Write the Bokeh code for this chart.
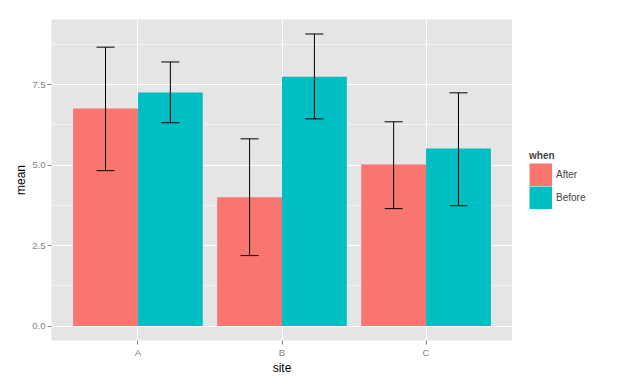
from bokeh.plotting import figure
from bokeh.layouts import row
from bokeh.models import (ColumnDataSource, FactorRange, Range1d, FixedTicker, Whisker,
                          TeeHead, Legend, LegendItem, PrintfTickFormatter)
from bokeh.transform import dodge
from bokeh.embed import file_html
from bokeh.resources import INLINE

# ---- data ----
sites = ["A", "B", "C"]
when_levels = ["After", "Before"]
after_mean = [6.76, 4.00, 5.02]
after_lower = [4.83, 2.19, 3.65]
after_upper = [8.67, 5.82, 6.35]
before_mean = [7.26, 7.75, 5.52]
before_lower = [6.32, 6.44, 3.74]
before_upper = [8.21, 9.08, 7.25]
y_ticks = [0, 2.5, 5.0, 7.5]
y_minor = [1.25, 3.75, 6.25, 8.75]
colors = ["#F8766D", "#00BFC4"]

FONT = "Liberation Sans"

x_range = FactorRange(*sites, range_padding=0.1, range_padding_units="absolute")
y_range = Range1d(-0.45, 9.53)

p = figure(width=512, height=377, x_range=x_range, y_range=y_range,
           output_backend="svg", toolbar_location=None,
           min_border_left=51, min_border_right=0, min_border_top=19, min_border_bottom=37,
           background_fill_color="#E5E5E5", border_fill_color="white",
           outline_line_color=None)

# small companion figure that only carries the legend (right of the panel)
lf = figure(width=102, height=377, x_range=x_range, y_range=y_range,
            output_backend="svg", toolbar_location=None, min_border=0,
            background_fill_color="white", border_fill_color="white",
            outline_line_color=None)
lf.axis.visible = False
lf.grid.visible = False

offsets = [-0.225, 0.225]
series = [(after_mean, after_lower, after_upper), (before_mean, before_lower, before_upper)]
key_renderers = []
for (m, lo, up), off, col in zip(series, offsets, colors):
    src = ColumnDataSource(dict(site=sites, mean=m, lower=lo, upper=up))
    p.vbar(x=dodge("site", off, range=x_range), top="mean", bottom=0, width=0.45,
           source=src, fill_color=col, line_color=None)
    # hidden twin used only to draw a full-size legend key
    k = lf.vbar(x=dodge("site", off, range=x_range), top="mean", bottom=0, width=0.45,
                source=src, fill_color=col, line_color=col, line_width=4.6,
                line_join="miter", visible=False)
    key_renderers.append(k)
    w = Whisker(base=dodge("site", off, range=x_range), upper="upper", lower="lower",
                source=src, dimension="height", line_color="black", line_width=1,
                level="overlay",
                upper_head=TeeHead(size=18, line_color="black", line_width=1),
                lower_head=TeeHead(size=18, line_color="black", line_width=1))
    p.add_layout(w)

items = [LegendItem(label=lvl, renderers=[r]) for lvl, r in zip(when_levels, key_renderers)]

legend = Legend(items=items, title="when", location=(17, 131), orientation="vertical",
                glyph_width=23, glyph_height=23, label_height=23, spacing=0, padding=0,
                margin=0, border_line_color=None, background_fill_alpha=0,
                inactive_fill_alpha=0, click_policy="none",
                title_text_font=FONT, title_text_font_style="bold", title_text_font_size="10px",
                label_text_font=FONT, label_text_font_size="10px", label_standoff=4,
                title_standoff=2)
lf.add_layout(legend)

# axes
ticker = FixedTicker(ticks=y_ticks, minor_ticks=y_minor)
p.yaxis.ticker = ticker
p.ygrid.ticker = ticker
p.yaxis.formatter = PrintfTickFormatter(format="%.1f")
p.xaxis.axis_label = "site"
p.yaxis.axis_label = "mean"
for ax in (p.xaxis[0], p.yaxis[0]):
    ax.axis_line_color = None
    ax.major_tick_line_color = "#7F7F7F"
    ax.major_tick_out = 4
    ax.major_tick_in = 0
    ax.minor_tick_line_color = None
    ax.major_label_text_color = "#7F7F7F"
    ax.major_label_text_font = FONT
    ax.major_label_text_font_size = "9.6px"
    ax.major_label_standoff = 2
    ax.axis_label_text_font = FONT
    ax.axis_label_text_font_size = "12px"
    ax.axis_label_text_font_style = "normal"
    ax.axis_label_text_color = "black"
p.xaxis.axis_label_standoff = 0
p.yaxis.axis_label_standoff = 1

p.xgrid.grid_line_color = "white"
p.xgrid.grid_line_width = 1
p.ygrid.grid_line_color = "white"
p.ygrid.grid_line_width = 1
p.ygrid.minor_grid_line_color = "#F2F2F2"
p.ygrid.minor_grid_line_width = 1

layout = row(p, lf, spacing=0)
open("out.html", "w").write(file_html(layout, INLINE))
